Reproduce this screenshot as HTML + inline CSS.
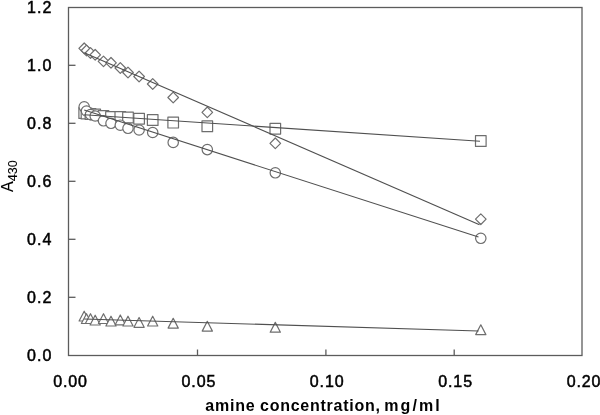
<!DOCTYPE html>
<html><head><meta charset="utf-8"><style>
html,body{margin:0;padding:0;background:#fff;}
body{width:600px;height:415px;position:relative;overflow:hidden;}
svg{position:absolute;left:0;top:0;will-change:transform;}
</style></head><body>
<svg width="600" height="415" viewBox="0 0 600 415">
<rect x="68.5" y="7.5" width="513.5" height="348.0" fill="none" stroke="#5c5c5c" stroke-width="1.3"/>
<line x1="68.5" y1="297.3" x2="75.5" y2="297.3" stroke="#5c5c5c" stroke-width="1.3"/>
<line x1="68.5" y1="239.3" x2="75.5" y2="239.3" stroke="#5c5c5c" stroke-width="1.3"/>
<line x1="68.5" y1="181.3" x2="75.5" y2="181.3" stroke="#5c5c5c" stroke-width="1.3"/>
<line x1="68.5" y1="123.3" x2="75.5" y2="123.3" stroke="#5c5c5c" stroke-width="1.3"/>
<line x1="68.5" y1="65.3" x2="75.5" y2="65.3" stroke="#5c5c5c" stroke-width="1.3"/>
<line x1="197.5" y1="355.5" x2="197.5" y2="349.5" stroke="#5c5c5c" stroke-width="1.3"/>
<line x1="325.9" y1="355.5" x2="325.9" y2="349.5" stroke="#5c5c5c" stroke-width="1.3"/>
<line x1="454.2" y1="355.5" x2="454.2" y2="349.5" stroke="#5c5c5c" stroke-width="1.3"/>
<g fill="#fff" stroke="#6e6e6e" stroke-width="1.2" stroke-linejoin="round"><path d="M84.2 43.0L89.5 48.3L84.2 53.6L78.9 48.3Z"/><path d="M86.5 45.2L91.8 50.5L86.5 55.8L81.2 50.5Z"/><path d="M90.5 47.7L95.8 53.0L90.5 58.3L85.2 53.0Z"/><path d="M95.2 49.5L100.5 54.8L95.2 60.1L89.9 54.8Z"/><path d="M103.5 56.1L108.8 61.4L103.5 66.7L98.2 61.4Z"/><path d="M111.0 57.5L116.3 62.8L111.0 68.1L105.7 62.8Z"/><path d="M120.3 62.7L125.6 68.0L120.3 73.3L115.0 68.0Z"/><path d="M128.0 67.2L133.3 72.5L128.0 77.8L122.7 72.5Z"/><path d="M139.1 71.2L144.4 76.5L139.1 81.8L133.8 76.5Z"/><path d="M152.7 78.7L158.0 84.0L152.7 89.3L147.4 84.0Z"/><path d="M173.2 92.2L178.5 97.5L173.2 102.8L167.9 97.5Z"/><path d="M207.3 107.0L212.6 112.3L207.3 117.6L202.0 112.3Z"/><path d="M275.3 138.0L280.6 143.3L275.3 148.6L270.0 143.3Z"/><path d="M480.8 213.9L486.1 219.2L480.8 224.5L475.5 219.2Z"/><rect x="78.9" y="107.6" width="10.6" height="10.8"/><rect x="81.2" y="108.1" width="10.6" height="10.8"/><rect x="85.2" y="108.6" width="10.6" height="10.8"/><rect x="89.9" y="109.1" width="10.6" height="10.8"/><rect x="98.2" y="110.6" width="10.6" height="10.8"/><rect x="105.7" y="111.6" width="10.6" height="10.8"/><rect x="115.0" y="111.6" width="10.6" height="10.8"/><rect x="122.7" y="112.1" width="10.6" height="10.8"/><rect x="133.8" y="113.3" width="10.6" height="10.8"/><rect x="147.4" y="114.6" width="10.6" height="10.8"/><rect x="167.9" y="117.2" width="10.6" height="10.8"/><rect x="202.0" y="120.9" width="10.6" height="10.8"/><rect x="270.0" y="123.3" width="10.6" height="10.8"/><rect x="475.5" y="135.6" width="10.6" height="10.8"/><circle cx="84.2" cy="106.8" r="5.2"/><circle cx="86.5" cy="111.0" r="5.2"/><circle cx="90.5" cy="114.5" r="5.2"/><circle cx="95.2" cy="116.0" r="5.2"/><circle cx="103.5" cy="120.8" r="5.2"/><circle cx="111.0" cy="123.3" r="5.2"/><circle cx="120.3" cy="125.2" r="5.2"/><circle cx="128.0" cy="128.3" r="5.2"/><circle cx="139.1" cy="130.0" r="5.2"/><circle cx="152.7" cy="132.5" r="5.2"/><circle cx="173.2" cy="142.4" r="5.2"/><circle cx="207.3" cy="149.6" r="5.2"/><circle cx="275.3" cy="172.8" r="5.2"/><circle cx="480.8" cy="238.3" r="5.2"/><path d="M84.2 311.2L89.3 321.0L79.1 321.0Z"/><path d="M86.5 313.7L91.6 323.5L81.4 323.5Z"/><path d="M90.5 313.7L95.6 323.5L85.4 323.5Z"/><path d="M95.2 315.2L100.3 325.0L90.1 325.0Z"/><path d="M103.5 313.7L108.6 323.5L98.4 323.5Z"/><path d="M111.0 316.2L116.1 326.0L105.9 326.0Z"/><path d="M120.3 315.0L125.4 324.8L115.2 324.8Z"/><path d="M128.0 316.2L133.1 326.0L122.9 326.0Z"/><path d="M139.1 317.5L144.2 327.3L134.0 327.3Z"/><path d="M152.7 316.2L157.8 326.0L147.6 326.0Z"/><path d="M173.2 318.3L178.3 328.1L168.1 328.1Z"/><path d="M207.3 321.3L212.4 331.1L202.2 331.1Z"/><path d="M275.3 322.4L280.4 332.2L270.2 332.2Z"/><path d="M480.8 324.8L485.9 334.6L475.7 334.6Z"/></g>
<line x1="84.2" y1="52.7" x2="479.5" y2="224.7" stroke="#505050" stroke-width="1.1"/>
<line x1="84.2" y1="114.8" x2="480.0" y2="141.2" stroke="#505050" stroke-width="1.1"/>
<line x1="84.2" y1="110.1" x2="478.5" y2="237.0" stroke="#505050" stroke-width="1.1"/>
<line x1="84.2" y1="319.0" x2="478.5" y2="331.0" stroke="#505050" stroke-width="1.1"/>
<g font-family="Liberation Sans, sans-serif" font-size="16" fill="#000" stroke="#000" stroke-width="0.5"><text x="52.3" y="360.9" text-anchor="end" letter-spacing="1.0">0.0</text><text x="52.3" y="302.9" text-anchor="end" letter-spacing="1.0">0.2</text><text x="52.3" y="244.9" text-anchor="end" letter-spacing="1.0">0.4</text><text x="52.3" y="186.9" text-anchor="end" letter-spacing="1.0">0.6</text><text x="52.3" y="128.9" text-anchor="end" letter-spacing="1.0">0.8</text><text x="52.3" y="70.9" text-anchor="end" letter-spacing="1.0">1.0</text><text x="52.3" y="12.9" text-anchor="end" letter-spacing="1.0">1.2</text><text x="70.5" y="386.5" text-anchor="middle" letter-spacing="0.9">0.00</text><text x="198.9" y="386.5" text-anchor="middle" letter-spacing="0.9">0.05</text><text x="327.2" y="386.5" text-anchor="middle" letter-spacing="0.9">0.10</text><text x="455.6" y="386.5" text-anchor="middle" letter-spacing="0.9">0.15</text><text x="584.0" y="386.5" text-anchor="middle" letter-spacing="0.9">0.20</text><g font-weight="bold" stroke-width="0"><text x="205.2" y="410.6" letter-spacing="0.8">amine</text><text x="260.0" y="410.6" letter-spacing="0.75">concentration,</text><text x="384.2" y="410.6" letter-spacing="2.1">mg/ml</text></g><text transform="translate(12.6 192.0) rotate(-90)" stroke-width="0.1">A<tspan font-size="12.6" dy="4.2">430</tspan></text></g>
</svg>
</body></html>
